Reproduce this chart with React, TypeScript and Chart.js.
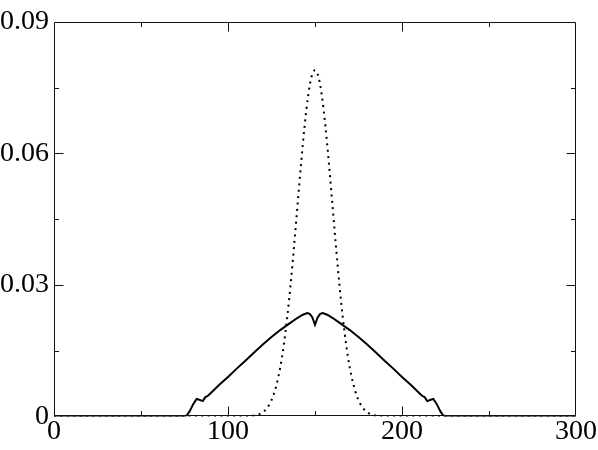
import React, { useEffect, useRef } from "react";
import { Chart, registerables } from "chart.js";

Chart.register(...registerables);

// ---- data ----
const solidX = [0, 75, 76.5, 78, 80, 82, 83.5, 85.5, 87, 88.5, 90, 95, 100, 105, 110, 115, 120, 125, 130, 135, 140, 143, 145.5, 147, 148.5, 150, 151.5, 153, 154.5, 157, 160, 165, 170, 175, 180, 185, 190, 195, 200, 205, 210, 211.5, 213, 214.5, 216.5, 218, 220, 222, 223.5, 225, 300];
const solidY = [0, 0, 0.0003, 0.0012, 0.0028, 0.004, 0.0038, 0.0035, 0.0044, 0.0047, 0.0053, 0.0072, 0.009, 0.0109, 0.0127, 0.0146, 0.0164, 0.0181, 0.0197, 0.0211, 0.0225, 0.0232, 0.0236, 0.0234, 0.0226, 0.0209, 0.0226, 0.0234, 0.0236, 0.0232, 0.0225, 0.0211, 0.0197, 0.0181, 0.0164, 0.0146, 0.0127, 0.0109, 0.009, 0.0072, 0.0053, 0.0047, 0.0044, 0.0035, 0.0038, 0.004, 0.0028, 0.0012, 0.0003, 0, 0];

const dottedX = [0, 105, 108, 112, 115, 118, 120, 122, 124, 126, 128, 130, 132, 134, 136, 138, 140, 142, 144, 146, 148, 150, 152, 154, 156, 158, 160, 162, 164, 166, 168, 170, 172, 174, 176, 178, 180, 182, 185, 188, 192, 195, 300];
const dottedY = [0, 0, 0.00001, 0.00007, 0.0002, 0.00052, 0.00096, 0.0017, 0.0029, 0.0047, 0.0074, 0.0111, 0.0161, 0.0225, 0.0302, 0.039, 0.0484, 0.0577, 0.0662, 0.073, 0.0775, 0.079, 0.0775, 0.073, 0.0662, 0.0577, 0.0484, 0.039, 0.0302, 0.0225, 0.0161, 0.0111, 0.0074, 0.0047, 0.0029, 0.0017, 0.00096, 0.00052, 0.0002, 0.00007, 0.00001, 0, 0];

const xTickValues = [0, 100, 200, 300];
const xTickLabels = ["0", "100", "200", "300"];
const yTickValues = [0, 0.03, 0.06, 0.09];
const yTickLabels = ["0", "0.03", "0.06", "0.09"];
const xMinorTicks = [50, 150, 250];
const yMinorTicks = [0.015, 0.045, 0.075];

const FONT = '"Liberation Serif"';

const frameTicks = {
  id: "frameTicks",
  afterDatasetsDraw(chart: any) {
    const { ctx, chartArea: a, scales } = chart;
    const xs = scales.x;
    const ys = scales.y;
    const L = Math.round(a.left) + 0.5;
    const R = Math.round(a.right) - 0.5;
    const T = Math.round(a.top) + 0.5;
    const B = Math.round(a.bottom) - 0.5;
    ctx.save();
    ctx.strokeStyle = "#111";
    ctx.lineWidth = 1;
    ctx.beginPath();
    ctx.rect(L, T, R - L, B - T);
    ctx.stroke();
    const major = 9;
    const minor = 4.5;
    const xt = (v: number, len: number) => {
      const p = Math.round(xs.getPixelForValue(v)) + 0.5;
      ctx.moveTo(p, B);
      ctx.lineTo(p, B - len);
      ctx.moveTo(p, T);
      ctx.lineTo(p, T + len);
    };
    const yt = (v: number, len: number) => {
      const p = Math.round(ys.getPixelForValue(v)) + 0.5;
      ctx.moveTo(L, p);
      ctx.lineTo(L + len, p);
      ctx.moveTo(R, p);
      ctx.lineTo(R - len, p);
    };
    ctx.beginPath();
    xTickValues.slice(1, -1).forEach((v) => xt(v, major));
    xMinorTicks.forEach((v) => xt(v, minor));
    yTickValues.slice(1, -1).forEach((v) => yt(v, major));
    yMinorTicks.forEach((v) => yt(v, minor));
    ctx.stroke();
    ctx.restore();
  },
};

export default function App() {
  const ref = useRef<HTMLCanvasElement>(null);
  useEffect(() => {
    let chart: any = null;
    let cancelled = false;
    const build = () => {
      if (cancelled || !ref.current) return;
      chart = new Chart(ref.current, {
        type: "line",
        data: {
          datasets: [
            {
              label: "dotted",
              data: dottedX.map((x, i) => ({ x, y: dottedY[i] })),
              borderColor: "#000",
              borderWidth: 2,
              borderDash: [2, 4.4],
              borderCapStyle: "butt",
              pointRadius: 0,
              cubicInterpolationMode: "monotone",
              fill: false,
            },
            {
              label: "solid",
              data: solidX.map((x, i) => ({ x, y: solidY[i] })),
              borderColor: "#000",
              borderWidth: 2,
              pointRadius: 0,
              tension: 0,
              fill: false,
            },
          ],
        },
        options: {
          responsive: false,
          animation: false,
          layout: { padding: { top: 22, right: 22, bottom: 4, left: -5 } },
          plugins: { legend: { display: false }, tooltip: { enabled: false } },
          scales: {
            x: {
              type: "linear",
              min: 0,
              max: 300,
              afterBuildTicks: (s: any) => {
                s.ticks = xTickValues.map((value) => ({ value }));
              },
              ticks: {
                autoSkip: false,
                maxRotation: 0,
                padding: -2,
                color: "#000",
                font: { family: FONT, size: 28 },
                callback: (_v: any, i: number) => xTickLabels[i],
              },
              grid: { display: false, drawTicks: false },
              border: { display: false },
            },
            y: {
              type: "linear",
              min: 0,
              max: 0.09,
              afterBuildTicks: (s: any) => {
                s.ticks = yTickValues.map((value) => ({ value }));
              },
              ticks: {
                autoSkip: false,
                padding: 5,
                color: "#000",
                font: { family: FONT, size: 28 },
                callback: (_v: any, i: number) => yTickLabels[i],
              },
              grid: { display: false, drawTicks: false },
              border: { display: false },
            },
          },
        },
        plugins: [frameTicks],
      } as any);
    };
    const fonts: any = (document as any).fonts;
    if (fonts && fonts.load) {
      fonts.load('28px "Liberation Serif"').then(build, build);
    } else {
      build();
    }
    return () => {
      cancelled = true;
      if (chart) chart.destroy();
    };
  }, []);
  return (
    <div style={{ position: "absolute", left: 0, top: 0, width: 598, height: 450, background: "#fff" }}>
      <canvas ref={ref} width={598} height={450} style={{ display: "block" }} />
    </div>
  );
}
